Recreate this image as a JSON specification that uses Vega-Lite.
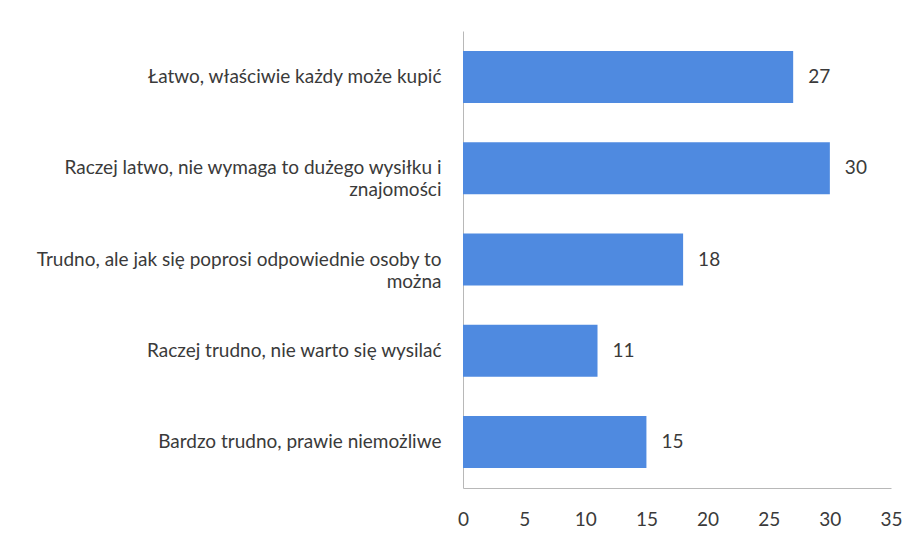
{
  "$schema": "https://vega.github.io/schema/vega-lite/v6.json",
  "autosize": "none",
  "width": 428,
  "height": 457,
  "padding": {"left": 463, "top": 31, "right": 18, "bottom": 45},
  "background": "white",
  "config": {
    "view": {"stroke": null},
    "font": "Lato"
  },
  "data": {
    "values": [
      {"odpowiedz": "Łatwo, właściwie każdy może kupić", "procent": 27},
      {"odpowiedz": "Raczej latwo, nie wymaga to dużego wysiłku i znajomości", "procent": 30},
      {"odpowiedz": "Trudno, ale jak się poprosi odpowiednie osoby to można", "procent": 18},
      {"odpowiedz": "Raczej trudno, nie warto się wysilać", "procent": 11},
      {"odpowiedz": "Bardzo trudno, prawie niemożliwe", "procent": 15}
    ]
  },
  "encoding": {
    "y": {
      "field": "odpowiedz",
      "type": "nominal",
      "sort": null,
      "title": null,
      "scale": {"paddingInner": 0.43, "paddingOuter": 0.22},
      "axis": {
        "ticks": false,
        "domainColor": "#b8b8b8",
        "domainWidth": 1,
        "labelFont": "Lato",
        "labelFontSize": 19,
        "labelColor": "#3a3a3a",
        "labelPadding": 22,
        "labelLimit": 460,
        "labelLineHeight": 22,
        "labelExpr": "datum.value == 'Raczej latwo, nie wymaga to dużego wysiłku i znajomości' ? ['Raczej latwo, nie wymaga to dużego wysiłku i', 'znajomości'] : datum.value == 'Trudno, ale jak się poprosi odpowiednie osoby to można' ? ['Trudno, ale jak się poprosi odpowiednie osoby to', 'można'] : datum.value"
      }
    },
    "x": {
      "field": "procent",
      "type": "quantitative",
      "title": null,
      "scale": {"domain": [0, 35], "nice": false},
      "axis": {
        "values": [0, 5, 10, 15, 20, 25, 30, 35],
        "grid": false,
        "ticks": false,
        "domainColor": "#b8b8b8",
        "domainWidth": 1,
        "labelFont": "Lato",
        "labelFontSize": 19,
        "labelColor": "#3a3a3a",
        "labelPadding": 22,
        "labelFlush": false
      }
    }
  },
  "layer": [
    {
      "mark": {"type": "bar", "color": "#4f8ae0"}
    },
    {
      "mark": {"type": "text", "align": "left", "baseline": "middle", "dx": 15, "fontSize": 19, "font": "Lato", "color": "#3a3a3a"},
      "encoding": {"text": {"field": "procent", "type": "quantitative"}}
    }
  ]
}
